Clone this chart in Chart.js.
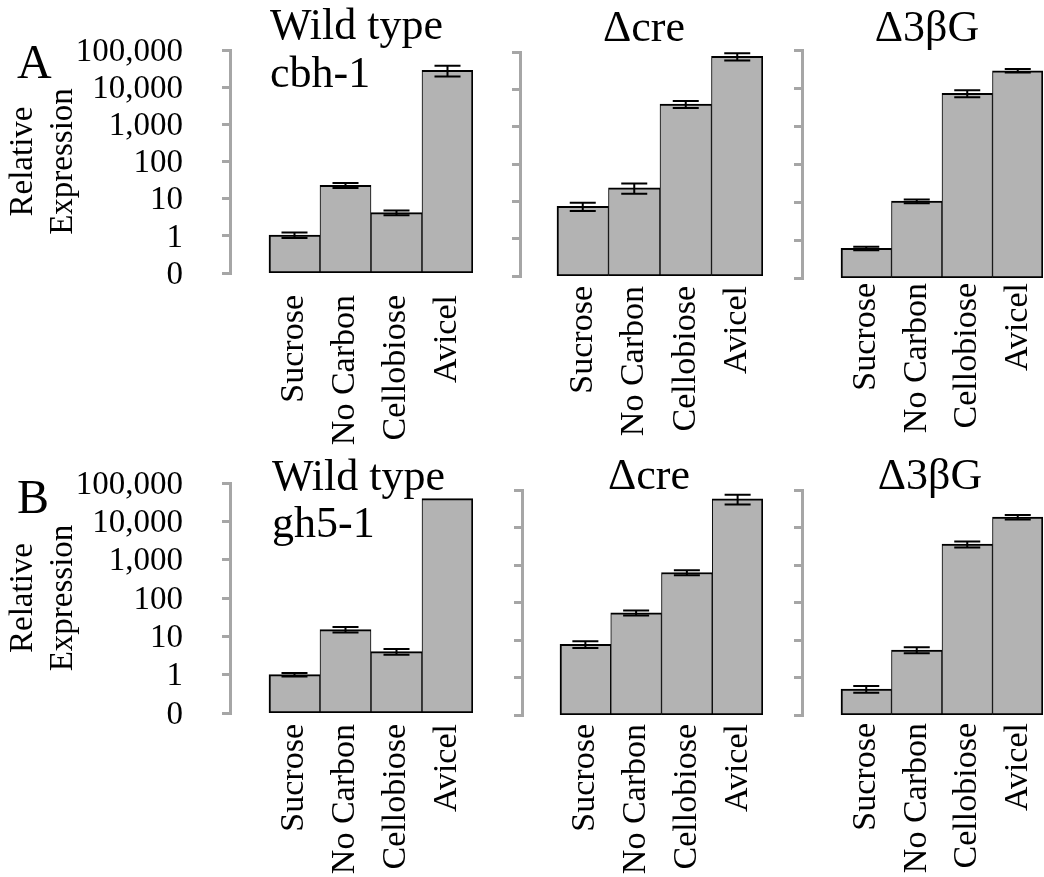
<!DOCTYPE html>
<html>
<head>
<meta charset="utf-8">
<script src="https://cdn.jsdelivr.net/npm/chart.js@4.4.0/dist/chart.umd.min.js"></script>
<style>
  body { margin: 0; background: #fff; }
  #wrap { position: relative; width: 1044px; height: 877px; overflow: hidden;
          font-family: "Times New Roman", "Liberation Serif", serif; color: #000; }
  canvas { position: absolute; }
  .lbl { position: absolute; white-space: nowrap; z-index: 2; }
  .title { font-size: 44px; line-height: 48px; }
  .mid { width: 200px; text-align: center; }
  .letter { font-size: 48px; line-height: 50px; }
</style>
</head>
<body>
<div id="wrap">
  <div class="lbl letter" style="left:17px;top:37px">A</div>
  <div class="lbl letter" style="left:17px;top:472px">B</div>
  <div class="lbl title" style="left:270px;top:1px">Wild type<br>cbh-1</div>
  <div class="lbl title mid" style="left:544px;top:3px">Δcre</div>
  <div class="lbl title mid" style="left:827px;top:3px">Δ3βG</div>
  <div class="lbl title" style="left:272px;top:452px;line-height:47px">Wild type<br>gh5-1</div>
  <div class="lbl title mid" style="left:549px;top:451px">Δcre</div>
  <div class="lbl title mid" style="left:830px;top:451px">Δ3βG</div>
</div>
<script>
const categories = ['Sucrose', 'No Carbon', 'Cellobiose', 'Avicel'];
const yTickValues = [0.1, 1, 10, 100, 1000, 10000, 100000];
const yTickLabels = ['0', '1', '10', '100', '1,000', '10,000', '100,000'];

// A: cbh-1
const cbhWildType = [1.05, 23, 4.2, 28500];
const cbhWildTypeErr = [0.18, 3.5, 0.6, 9000];
const cbhCre = [7.3, 23, 4000, 76000];
const cbhCreErr = [1.8, 7, 850, 17000];
const cbh3bG = [0.6, 10.5, 7200, 28500];
const cbh3bGErr = [0.06, 1.2, 1500, 3000];

// B: gh5-1
const gh5WildType = [1.0, 15, 4.0, 39000];
const gh5WildTypeErr = [0.11, 2.5, 0.7, 0];
const gh5Cre = [7.7, 53, 630, 58000];
const gh5CreErr = [1.6, 8, 100, 17000];
const gh53bG = [0.49, 5.4, 3600, 19000];
const gh53bGErr = [0.1, 1.0, 650, 2700];

const serif = '"Times New Roman", "Liberation Serif", serif';
const barFill = '#b3b3b3';
const axisGrey = '#a6a6a6';

const errorBars = {
  id: 'errorBars',
  afterDatasetsDraw(chart, args, opts) {
    const meta = chart.getDatasetMeta(0);
    const ys = chart.scales.y;
    const ctx = chart.ctx;
    ctx.save();
    ctx.strokeStyle = '#000';
    ctx.lineWidth = 2;
    meta.data.forEach((bar, i) => {
      const v = chart.data.datasets[0].data[i].y;
      const e = opts.errors[i];
      if (!e) return;
      const hi = ys.getPixelForValue(v + e);
      const lo = ys.getPixelForValue(v - e);
      const cap = 13;
      ctx.beginPath();
      ctx.moveTo(bar.x, hi); ctx.lineTo(bar.x, lo);
      ctx.moveTo(bar.x - cap, hi); ctx.lineTo(bar.x + cap, hi);
      ctx.moveTo(bar.x - cap, lo); ctx.lineTo(bar.x + cap, lo);
      ctx.stroke();
    });
    ctx.restore();
  }
};

// page boxes: canvas rect, axis x, plot top/bottom, first bar left edge, plot right, gap to x labels
const panels = [
  { values: cbhWildType, errors: cbhWildTypeErr, labels: true,
    box: { x: 0, y: 0, w: 480, h: 450, axisX: 230, top: 50, bottom: 273, barsLeft: 269, right: 473, gap: 22 } },
  { values: cbhCre, errors: cbhCreErr, labels: false,
    box: { x: 500, y: 0, w: 270, h: 450, axisX: 520, top: 52, bottom: 276, barsLeft: 557, right: 763, gap: 10 } },
  { values: cbh3bG, errors: cbh3bGErr, labels: false,
    box: { x: 780, y: 0, w: 264, h: 450, axisX: 802, top: 50, bottom: 278, barsLeft: 841, right: 1043, gap: 5 } },
  { values: gh5WildType, errors: gh5WildTypeErr, labels: true,
    box: { x: 0, y: 450, w: 480, h: 427, axisX: 230, top: 483, bottom: 713, barsLeft: 269, right: 473, gap: 11 } },
  { values: gh5Cre, errors: gh5CreErr, labels: false,
    box: { x: 500, y: 450, w: 270, h: 427, axisX: 522, top: 490, bottom: 715, barsLeft: 560, right: 763, gap: 9 } },
  { values: gh53bG, errors: gh53bGErr, labels: false,
    box: { x: 780, y: 450, w: 264, h: 427, axisX: 802, top: 490, bottom: 715, barsLeft: 841, right: 1043, gap: 8 } }
];

const wrap = document.getElementById('wrap');

panels.forEach(p => {
  const b = p.box;
  const canvas = document.createElement('canvas');
  canvas.width = b.w;
  canvas.height = b.h;
  canvas.style.left = b.x + 'px';
  canvas.style.top = b.y + 'px';
  wrap.appendChild(canvas);

  const unit = (b.right - b.barsLeft) / categories.length;
  const xMin = -0.5 - (b.barsLeft - b.axisX) / unit;
  const last = categories.length - 1;

  new Chart(canvas, {
    type: 'bar',
    data: {
      datasets: [{
        data: p.values.map((v, i) => ({ x: i, y: v })),
        backgroundColor: barFill,
        borderColor: '#000',
        borderSkipped: false,
        borderWidth: ctx => ({
          top: 2, bottom: 2,
          left: ctx.dataIndex === 0 ? 2 : 1,
          right: ctx.dataIndex === last ? 2 : 1
        }),
        categoryPercentage: 1,
        barPercentage: 1
      }]
    },
    options: {
      responsive: false,
      animation: false,
      devicePixelRatio: 1,
      layout: { padding: { left: 0, top: b.top - b.y, right: b.x + b.w - b.right, bottom: 0 } },
      plugins: {
        legend: { display: false },
        tooltip: { enabled: false },
        errorBars: { errors: p.errors }
      },
      scales: {
        x: {
          type: 'linear',
          offset: false,
          min: xMin,
          max: last + 0.5,
          bounds: 'data',
          grid: { display: false, drawTicks: false },
          border: { display: false },
          afterBuildTicks: s => { s.ticks = categories.map((c, i) => ({ value: i })); },
          afterFit: s => { s.height = b.y + b.h - b.bottom; s.paddingLeft = 0; s.paddingRight = 0; },
          ticks: {
            autoSkip: false,
            minRotation: 90,
            maxRotation: 90,
            padding: b.gap,
            color: '#000',
            font: { family: serif, size: 34 },
            callback: v => categories[v]
          }
        },
        y: {
          type: 'logarithmic',
          min: 0.1,
          max: 100000,
          afterBuildTicks: s => { s.ticks = yTickValues.map(v => ({ value: v })); },
          afterFit: s => { s.width = b.axisX - b.x; s.paddingTop = 0; s.paddingBottom = 0; },
          border: { display: true, color: axisGrey, width: 3 },
          grid: { drawOnChartArea: false, drawTicks: true, tickLength: 8, color: axisGrey, lineWidth: 3 },
          ticks: {
            display: p.labels,
            autoSkip: false,
            padding: 39,
            labelOffset: 2,
            color: '#000',
            font: { family: serif, size: 33 },
            callback: (v, i) => yTickLabels[i]
          },
          title: {
            display: p.labels,
            text: ['Relative', 'Expression'],
            color: '#000',
            font: { family: serif, size: 33 },
            padding: { top: 4, bottom: 0 }
          }
        }
      }
    },
    plugins: [errorBars]
  });
});
</script>
</body>
</html>
